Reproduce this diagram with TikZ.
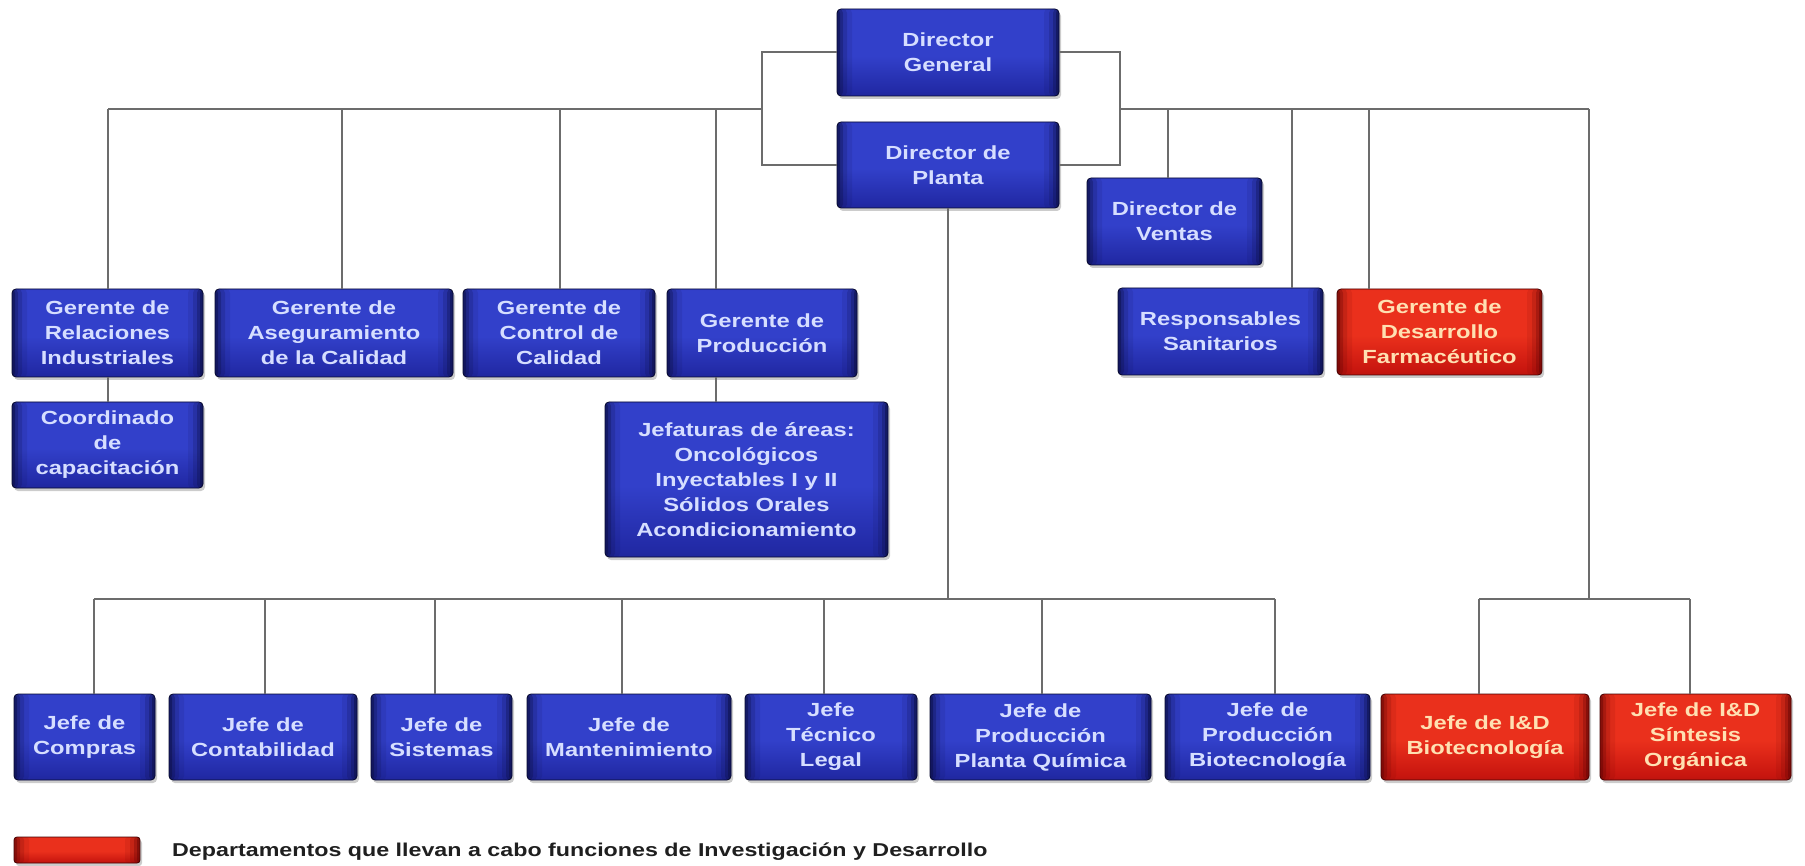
\documentclass[tikz,border=0pt]{standalone}
\usepackage{fontspec}
\newfontfamily\chartfont{Liberation Sans}[FakeStretch=1.25]
\usetikzlibrary{shadows}

% palette
\definecolor{navyEdge}{RGB}{12,14,66}
\definecolor{navyDeep}{RGB}{22,26,118}
\definecolor{navyMid}{RGB}{34,42,166}
\definecolor{navyCore}{RGB}{50,64,202}
\definecolor{redEdge}{RGB}{100,5,5}
\definecolor{redDeep}{RGB}{150,12,10}
\definecolor{redMid}{RGB}{200,22,15}
\definecolor{redCore}{RGB}{234,48,28}
\definecolor{linkgrey}{RGB}{108,108,108}
\definecolor{bluetext}{RGB}{214,222,255}
\definecolor{redtext}{RGB}{255,224,178}

% glossy fills: thin dark rim at the top, bright band, deeper rim at the bottom
\pgfdeclareverticalshading{bluevert}{100bp}{%
  color(0bp)=(navyEdge); color(12bp)=(navyDeep); color(28bp)=(navyMid);
  color(48bp)=(navyCore); color(74bp)=(navyCore); color(90bp)=(navyMid);
  color(97bp)=(navyDeep); color(100bp)=(navyEdge)}
\pgfdeclareverticalshading{redvert}{100bp}{%
  color(0bp)=(redEdge); color(12bp)=(redDeep); color(28bp)=(redMid);
  color(48bp)=(redCore); color(74bp)=(redCore); color(90bp)=(redMid);
  color(97bp)=(redDeep); color(100bp)=(redEdge)}

\tikzset{
  % layered strips darken the left and right sides
  sides/.style={path picture={
    \foreach \w/\o in {3/0.45,6/0.3,10/0.18,15/0.1}{
      \fill[#1, opacity=\o] (path picture bounding box.south west)
        rectangle ([xshift=\w pt]path picture bounding box.north west);
      \fill[#1, opacity=\o] ([xshift=-\w pt]path picture bounding box.south east)
        rectangle (path picture bounding box.north east);}}},
  unit/.style={rectangle, rounded corners=4pt, draw=navyEdge!70!black,
    line width=0.8pt, shade, shading=bluevert, sides=navyEdge, text=bluetext,
    font=\chartfont\bfseries\fontsize{19}{25}\selectfont,
    align=center, inner sep=2pt,
    drop shadow={shadow xshift=2pt, shadow yshift=-3pt, opacity=0.2, fill=black}},
  rdunit/.style={unit, shading=redvert, sides=redEdge, draw=redEdge!70!black, text=redtext},
  sz/.style 2 args={minimum width=#1pt, minimum height=#2pt},
  link/.style={draw=linkgrey, line width=2pt},
}

\begin{document}
\begin{tikzpicture}[x=1pt, y=-1pt]
\useasboundingbox[fill=white] (0,0) rectangle (1805,866);

% top management
\node[unit, sz={222}{87}] (dg) at (948,52.5) {Director\\General};
\node[unit, sz={222}{86}] (dp) at (948,165) {Director de\\Planta};
\node[unit, sz={175}{87}] (ventas) at (1174.5,221.5) {Director de\\Ventas};

% managers
\node[unit, sz={191}{88}] (gri) at (107.5,333) {Gerente de\\Relaciones\\Industriales};
\node[unit, sz={238}{88}] (gac) at (334,333) {Gerente de\\Aseguramiento\\de la Calidad};
\node[unit, sz={192}{88}] (gcc) at (559,333) {Gerente de\\Control de\\Calidad};
\node[unit, sz={190}{88}] (gp) at (762,333) {Gerente de\\Producción};
\node[unit, sz={205}{87}] (resp) at (1220.5,331.5) {Responsables\\Sanitarios};
\node[rdunit, sz={205}{86}] (gdf) at (1439.5,332) {Gerente de\\Desarrollo\\Farmacéutico};

\node[unit, sz={191}{86}] (coord) at (107.5,445) {Coordinado\\de\\capacitación};
\node[unit, sz={283}{155}] (jef) at (746.5,479.5)
  {Jefaturas de áreas:\\Oncológicos\\Inyectables I y II\\Sólidos Orales\\Acondicionamiento};

% department heads
\node[unit, sz={141}{86}] (compras) at (84.5,737) {Jefe de\\Compras};
\node[unit, sz={188}{86}] (contab) at (263,737) {Jefe de\\Contabilidad};
\node[unit, sz={141}{86}] (sist) at (441.5,737) {Jefe de\\Sistemas};
\node[unit, sz={204}{86}] (mant) at (629,737) {Jefe de\\Mantenimiento};
\node[unit, sz={172}{86}] (tec) at (831,737) {Jefe\\Técnico\\Legal};
\node[unit, sz={221}{86}] (pq) at (1040.5,737) {Jefe de\\Producción\\Planta Química};
\node[unit, sz={205}{86}] (bio) at (1267.5,737) {Jefe de\\Producción\\Biotecnología};
\node[rdunit, sz={208}{86}] (idb) at (1485,737) {Jefe de I\&D\\Biotecnología};
\node[rdunit, sz={191}{86}] (ids) at (1695.5,737) {Jefe de I\&D\\Síntesis\\Orgánica};

% legend
\node[rdunit, sz={126}{26}, rounded corners=3pt] (key) at (77,850) {};
\node[anchor=west, inner sep=0pt, text=black!88,
  font=\chartfont\bfseries\fontsize{18.6}{22}\selectfont] (keytext) at (172,852)
  {Departamentos que llevan a cabo funciones de Investigación y Desarrollo};

% upper bus and its taps
\coordinate (tGRI) at (108,109);
\coordinate (tGAC) at (342,109);
\coordinate (tGCC) at (560,109);
\coordinate (tGP)  at (716,109);
\coordinate (brL)  at (762,109);
\coordinate (brR)  at (1120,109);
\coordinate (tVen) at (1168,109);
\coordinate (tResp) at (1292,109);
\coordinate (tGDF) at (1369,109);
\coordinate (tID)  at (1589,109);

\draw[link] (tGRI) -- (brL);
\draw[link] (brR) -- (tID);
\draw[link] (dg.west) -| (brL) |- (dp.west);
\draw[link] (dg.east) -| (brR) |- (dp.east);

\draw[link] (tGRI) -- (tGRI |- gri.north);
\draw[link] (tGAC) -- (tGAC |- gac.north);
\draw[link] (tGCC) -- (tGCC |- gcc.north);
\draw[link] (tGP)  -- (tGP |- gp.north);
\draw[link] (tVen) -- (tVen |- ventas.north);
\draw[link] (tResp) -- (tResp |- resp.north);
\draw[link] (tGDF) -- (tGDF |- gdf.north);

\draw[link] (tGRI |- gri.south) -- (tGRI |- coord.north);
\draw[link] (tGP |- gp.south) -- (tGP |- jef.north);

% plant bus
\coordinate (pB)  at (948,599);
\coordinate (bCo) at (94,599);
\coordinate (bCt) at (265,599);
\coordinate (bSi) at (435,599);
\coordinate (bMa) at (622,599);
\coordinate (bTe) at (824,599);
\coordinate (bPq) at (1042,599);
\coordinate (bBi) at (1275,599);

\draw[link] (dp.south) -- (pB);
\draw[link] (bCo) -- (bBi);
\draw[link] (bCo) -- (bCo |- compras.north);
\draw[link] (bCt) -- (bCt |- contab.north);
\draw[link] (bSi) -- (bSi |- sist.north);
\draw[link] (bMa) -- (bMa |- mant.north);
\draw[link] (bTe) -- (bTe |- tec.north);
\draw[link] (bPq) -- (bPq |- pq.north);
\draw[link] (bBi) -- (bBi |- bio.north);

% research bus
\coordinate (rB)  at (1589,599);
\coordinate (bIb) at (1479,599);
\coordinate (bIs) at (1690,599);
\draw[link] (tID) -- (rB);
\draw[link] (bIb) -- (bIs);
\draw[link] (bIb) -- (bIb |- idb.north);
\draw[link] (bIs) -- (bIs |- ids.north);
\end{tikzpicture}
\end{document}
